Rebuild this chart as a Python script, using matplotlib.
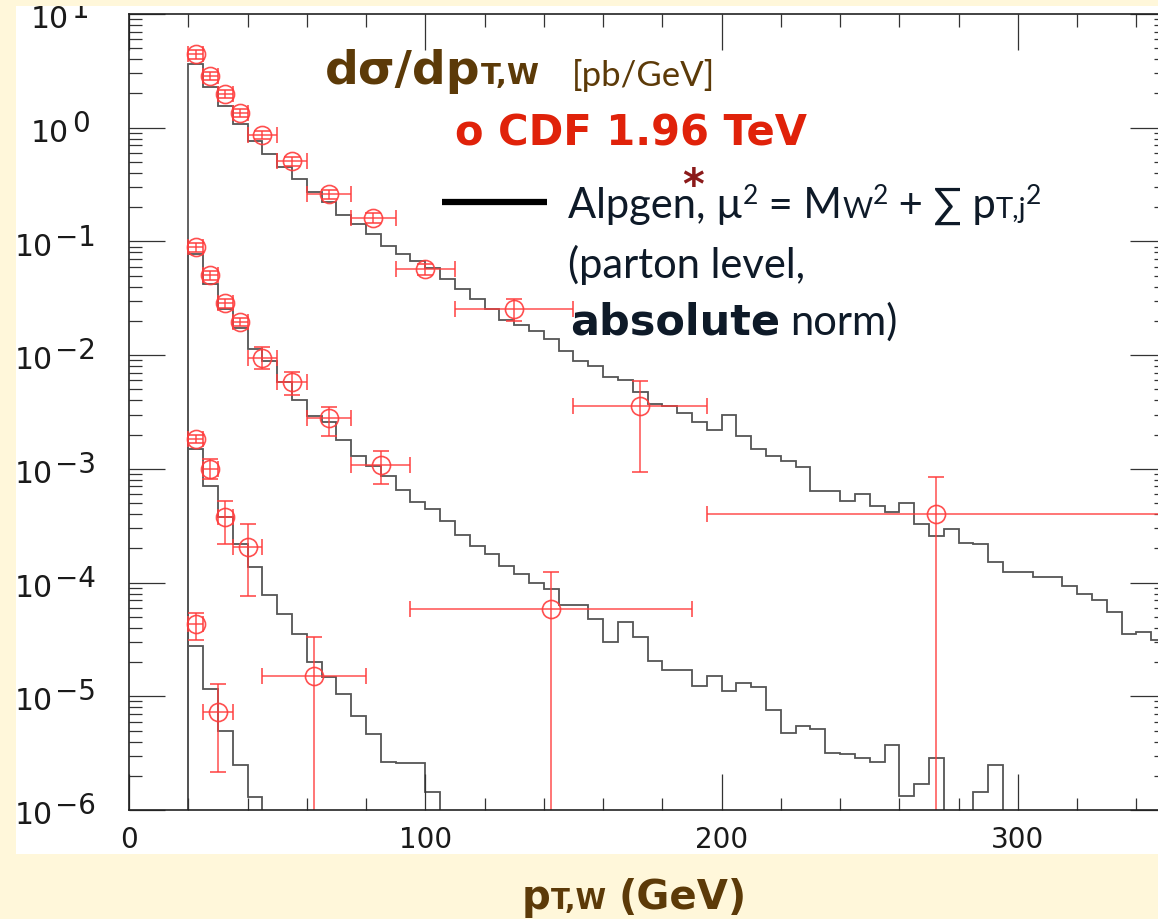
import numpy as np
import matplotlib
matplotlib.use("Agg")
import matplotlib.pyplot as plt
from matplotlib.patches import Rectangle
from matplotlib.lines import Line2D
from matplotlib.ticker import MultipleLocator, LogLocator, NullFormatter
from matplotlib.transforms import blended_transform_factory

# Alpgen parton-level predictions, 5 GeV bins from 20 GeV (pb/GeV)
edge0 = 20
binw = 5
alpgen_1j = [3.63, 2.26, 1.54, 1.08, 0.77, 0.59, 0.449, 0.354, 0.274, 0.221,
             0.171, 0.142, 0.116, 0.0917, 0.0774, 0.067, 0.058, 0.047, 0.038, 0.0311,
             0.0255, 0.0205, 0.0185, 0.0164, 0.0139, 0.0109, 0.0089, 0.0081, 0.0064, 0.0060,
             0.0047, 0.0037, 0.0036, 0.0031, 0.0026, 0.0022, 0.0030, 0.00195, 0.0015, 0.0013,
             0.00118, 0.00103, 6.4e-4, 6.4e-4, 5.25e-4, 6.0e-4, 4.74e-4, 4.14e-4, 5.0e-4, 3.27e-4,
             2.55e-4, 2.95e-4, 2.25e-4, 2.18e-4, 1.51e-4, 1.23e-4, 1.23e-4, 1.11e-4, 1.11e-4, 9.4e-5,
             7.9e-5, 7.0e-5, 5.5e-5, 3.5e-5, 3.65e-5, 3.1e-5]
alpgen_2j = [0.0774, 0.0422, 0.0255, 0.0175, 0.0113, 0.0089, 0.0058, 0.0040, 0.0029, 0.0026,
             0.0018, 0.0013, 0.00106, 0.00087, 6.5e-4, 5.1e-4, 4.4e-4, 3.5e-4, 2.6e-4, 2.1e-4,
             1.78e-4, 1.41e-4, 1.19e-4, 1.0e-4, 8.8e-5, 6.3e-5, 6.3e-5, 4.8e-5, 3.0e-5, 4.5e-5,
             3.3e-5, 2.05e-5, 1.7e-5, 1.7e-5, 1.24e-5, 1.5e-5, 1.12e-5, 1.32e-5, 1.2e-5, 7.5e-6,
             4.8e-6, 5.5e-6, 5.15e-6, 3.2e-6, 3.1e-6, 2.84e-6, 2.65e-6, 3.75e-6, 1.33e-6, 1.69e-6,
             2.84e-6, 0, 0, 1.43e-6, 2.5e-6]
alpgen_3j = [1.49e-3, 7.1e-4, 3.74e-4, 2.18e-4, 1.36e-4, 7.8e-5, 5.3e-5, 3.5e-5, 2.0e-5, 1.47e-5,
             1.05e-5, 6.75e-6, 4.66e-6, 2.66e-6, 2.6e-6, 2.6e-6, 1.43e-6]
alpgen_4j = [2.78e-5, 1.16e-5, 4.97e-6, 2.5e-6, 1.29e-6]

# CDF 1.96 TeV data: bin low / high edges, value, upper and lower error ends
cdf1_lo = [20, 25, 30, 35, 40, 50, 60, 75, 90, 110, 150, 195]
cdf1_hi = [25, 30, 35, 40, 50, 60, 75, 90, 110, 150, 195, 350]
cdf1_y = [4.45, 2.87, 1.98, 1.35, 0.863, 0.506, 0.261, 0.161, 0.057, 0.0255, 0.00359, 0.0004]
cdf1_up = [4.85, 3.12, 2.15, 1.47, 0.94, 0.55, 0.285, 0.178, 0.063, 0.031, 0.00596, 0.00084]
cdf1_dn = [4.05, 2.62, 1.81, 1.23, 0.79, 0.465, 0.238, 0.145, 0.051, 0.0201, 0.00094, 0]

cdf2_lo = [20, 25, 30, 35, 40, 50, 60, 75, 95]
cdf2_hi = [25, 30, 35, 40, 50, 60, 75, 95, 190]
cdf2_y = [0.0887, 0.0507, 0.0287, 0.0197, 0.00936, 0.00583, 0.00278, 0.00108, 5.85e-5]
cdf2_up = [0.096, 0.055, 0.031, 0.0213, 0.0117, 0.00714, 0.00348, 0.00144, 1.23e-4]
cdf2_dn = [0.081, 0.046, 0.026, 0.018, 0.00755, 0.00446, 0.00195, 0.000734, 0]

cdf3_lo = [20, 25, 30, 35, 45]
cdf3_hi = [25, 30, 35, 45, 80]
cdf3_y = [0.00183, 0.000996, 3.74e-4, 2.04e-4, 1.51e-5]
cdf3_up = [0.00198, 0.00122, 5.24e-4, 3.27e-4, 3.3e-5]
cdf3_dn = [0.00168, 0.00081, 2.18e-4, 7.66e-5, 0]

cdf4_lo = [20, 25]
cdf4_hi = [25, 35]
cdf4_y = [4.3e-5, 7.3e-6]
cdf4_up = [5.4e-5, 1.28e-5]
cdf4_dn = [3.1e-5, 2.14e-6]

y_exponents = [1, 0, -1, -2, -3, -4, -5, -6]

W, H = 1158, 920
BG = '#FFF7DA'
BROWN = '#5C3A08'
RED = '#E0220A'
NAVY = '#0E1A28'
PTRED = '#FF3C3C'
HISTC = '#555555'
BOLD = ['DejaVu Sans']
REG = ['Lato', 'DejaVu Sans']

fig = plt.figure(figsize=(W / 100, H / 100), dpi=100, facecolor=BG)
fig.add_artist(Rectangle((16 / W, 1 - 855 / H), 1.0, 848 / H, transform=fig.transFigure,
                         facecolor='white', edgecolor='none', zorder=-5))

ax = fig.add_axes([129 / W, 1 - 811 / H, 1037 / W, 796 / H])
ax.set_yscale('log', nonpositive='clip')
ax.set_xlim(0, 350)
ax.set_ylim(1e-6, 1e1)

# histograms
for vals in (alpgen_1j, alpgen_2j, alpgen_3j, alpgen_4j):
    edges = edge0 + binw * np.arange(len(vals) + 1)
    ax.stairs(vals, edges, baseline=1e-9, color=HISTC, lw=1.3)

# data points
cdf_sets = [(cdf1_lo, cdf1_hi, cdf1_y, cdf1_up, cdf1_dn),
            (cdf2_lo, cdf2_hi, cdf2_y, cdf2_up, cdf2_dn),
            (cdf3_lo, cdf3_hi, cdf3_y, cdf3_up, cdf3_dn),
            (cdf4_lo, cdf4_hi, cdf4_y, cdf4_up, cdf4_dn)]
for lo, hi, y, up, dn in cdf_sets:
    lo, hi, y = np.array(lo, float), np.array(hi, float), np.array(y)
    up, dn = np.array(up), np.array(dn)
    ax.errorbar((lo + hi) / 2, y, xerr=(hi - lo) / 2, yerr=[y - dn, up - y], fmt='o',
                ms=13, mfc='none', mec=PTRED, mew=1.2, ecolor=PTRED, elinewidth=1.1,
                capsize=5.5, capthick=1.1, alpha=0.9)

# axes styling
ax.xaxis.set_major_locator(MultipleLocator(100))
ax.xaxis.set_minor_locator(MultipleLocator(20))
ax.yaxis.set_major_locator(LogLocator(base=10, numticks=20))
ax.yaxis.set_minor_locator(LogLocator(base=10, subs=np.arange(2, 10), numticks=20))
ax.yaxis.set_major_formatter(NullFormatter())
ax.yaxis.set_minor_formatter(NullFormatter())
ax.tick_params(which='both', direction='in', top=True, right=True, color='#333333', width=0.9)
ax.tick_params(which='major', length=26)
ax.tick_params(which='minor', length=9)
ax.tick_params(axis='x', labelsize=20, labelcolor='#1a1a1a', pad=11)
for s in ax.spines.values():
    s.set_linewidth(1.2)
    s.set_color('#222222')

# y tick labels: 10 with a raised full-size exponent
tr = blended_transform_factory(fig.transFigure, ax.transData)
for e in y_exponents:
    xb = 53 if e < 0 else 69
    xe = 55 if e < 0 else 72
    ax.annotate('10', xy=(xb / W, 10.0 ** e), xycoords=tr, xytext=(0, -9.5),
                textcoords='offset points', ha='right', va='baseline', fontsize=21.5,
                color='#1a1a1a', annotation_clip=False)
    ax.annotate(str(e).replace('-', '\u2212'), xy=(xe / W, 10.0 ** e), xycoords=tr,
                xytext=(0, -2.3), textcoords='offset points', ha='left', va='baseline',
                fontsize=20, color='#1a1a1a', annotation_clip=False)

fig.add_artist(Rectangle((0, 1 - 7 / H), 1, 7 / H, transform=fig.transFigure,
                         facecolor=BG, edgecolor='none', zorder=10))

renderer = fig.canvas.get_renderer()


def put(x, y, s, **kw):
    return fig.text(x / W, 1 - y / H, s, va='baseline', **kw)


def put_runs(x, y, runs):
    # place text pieces one after another on a common baseline
    for s, kw in runs:
        kw = dict(kw)
        dy = kw.pop('dy', 0)
        t = put(x, y + dy, s, **kw)
        x += t.get_window_extent(renderer).width
    return x


# title
put_runs(325, 84, [('d\u03c3/dp', dict(family=BOLD, weight='bold', fontsize=34, color=BROWN)),
                   ('T,W', dict(family=BOLD, weight='bold', fontsize=21, color=BROWN))])
put(572, 86, '[pb/GeV]', family=REG, fontsize=25, color=BROWN)
put(455, 146, 'o CDF 1.96 TeV', family=BOLD, weight='bold', fontsize=30, color=RED)

# legend
fig.add_artist(Line2D([442 / W, 547 / W], [1 - 203 / H, 1 - 203 / H], color='black',
                      lw=4.5, solid_capstyle='butt', transform=fig.transFigure))
big = dict(family=REG, fontsize=30, color=NAVY)
small = dict(family=REG, fontsize=21, color=NAVY)
sup = dict(family=REG, fontsize=19, color=NAVY, dy=-14)
put_runs(568, 218, [('Alpgen, \u00b5', big), ('2', sup), (' = M', big), ('W', small),
                    ('2', sup), (' + \u2211 p', big), ('T,j', small), ('2', sup)])
put(693, 199, '*', family=BOLD, weight='bold', fontsize=30, color='#8B1A1A', ha='center')
put(568, 278, '(parton level,', **big)
xe = put_runs(570, 335, [('absolute', dict(family=BOLD, weight='bold', fontsize=31, color=NAVY))])
put(xe + 10, 335, 'norm)', **big)

# x axis title
put_runs(522, 909, [('p', dict(family=BOLD, weight='bold', fontsize=29, color=BROWN)),
                    ('T,W', dict(family=BOLD, weight='bold', fontsize=20, color=BROWN))])
put(618, 909, '(GeV)', family=BOLD, weight='bold', fontsize=29, color=BROWN)

fig.savefig('out.png', dpi=100, facecolor=BG)
